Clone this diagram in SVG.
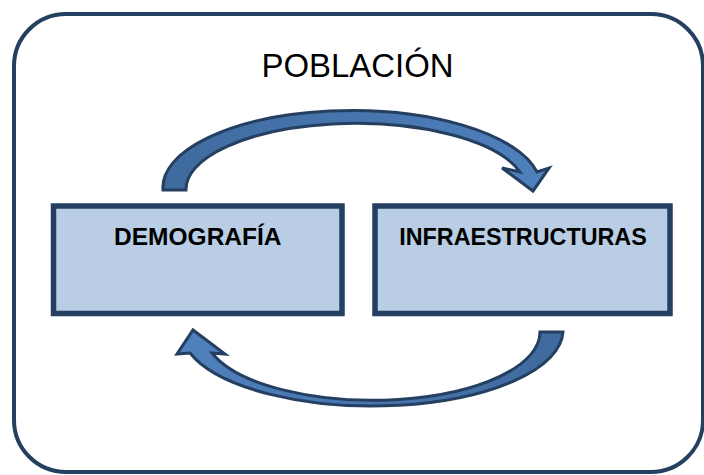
<svg xmlns="http://www.w3.org/2000/svg" width="704" height="475" viewBox="0 0 704 475">
  <style>
    .frame { fill: #FFFFFF; stroke: #243F60; stroke-width: 4; }
    .box { fill: #B9CDE5; stroke: #243F60; stroke-width: 5.5; }
    .arrow { stroke: #243F60; stroke-width: 3; stroke-linejoin: miter; }
    .title { font-family: "Liberation Sans", Arial, sans-serif; font-size: 34px; fill: #000000; }
    .label { font-family: "Liberation Sans", Arial, sans-serif; font-size: 24.5px; font-weight: bold; fill: #000000; }
  </style>
  <defs>
    <linearGradient id="gTop" x1="0" y1="0" x2="1" y2="0">
      <stop offset="0" stop-color="#3F6A9E"/>
      <stop offset="1" stop-color="#4F81BD"/>
    </linearGradient>
    <linearGradient id="gBottom" x1="1" y1="0" x2="0" y2="0">
      <stop offset="0" stop-color="#3F6A9E"/>
      <stop offset="1" stop-color="#4F81BD"/>
    </linearGradient>
  </defs>

  <g id="poblacion">
    <rect class="frame" x="14" y="14" width="689" height="458" rx="52" ry="52"/>
    <text class="title" x="357.5" y="77.3" text-anchor="middle" textLength="192" lengthAdjust="spacingAndGlyphs">POBLACIÓN</text>
  </g>

  <g id="demografia">
    <rect class="box" x="53.5" y="206" width="288.5" height="107.5"/>
    <text class="label" x="197.8" y="245" text-anchor="middle" textLength="167.5" lengthAdjust="spacingAndGlyphs">DEMOGRAFÍA</text>
  </g>

  <g id="infraestructuras">
    <rect class="box" x="375" y="206" width="295" height="107.5"/>
    <text class="label" x="523" y="245" text-anchor="middle" textLength="247.5" lengthAdjust="spacingAndGlyphs">INFRAESTRUCTURAS</text>
  </g>

  <g id="connectors">
    <path class="arrow" fill="url(#gTop)" d="M 163,190 A 189 77 0 0 1 537,172 L 549,168 L 533,191 L 502,168 L 520,172 A 170 66 0 0 0 186,190 Z"/>
    <path class="arrow" fill="url(#gBottom)" d="M 563,332 A 191 76 0 0 1 190,353 L 177,354 L 193,330 L 225,354 L 212,353 A 168 68 0 0 0 540,332 Z"/>
  </g>
</svg>
